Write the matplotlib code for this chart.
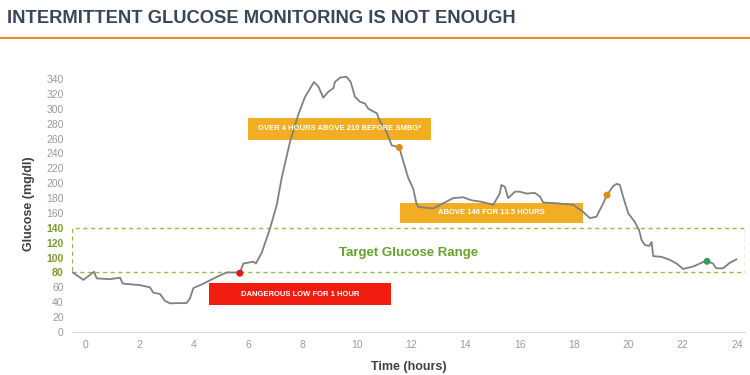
import matplotlib.pyplot as plt
from matplotlib.patches import Rectangle

# glucose trace (hours, mg/dl)
hours = [-0.45, -0.06, 0.33, 0.43, 0.92, 1.29, 1.39, 2.02, 2.39, 2.51, 2.76, 2.94, 3.13,
         3.74, 3.86, 3.99, 4.36, 4.85, 5.21, 5.7, 5.83, 6.2, 6.29, 6.5, 6.81, 7.06, 7.24,
         7.55, 7.85, 8.1, 8.43, 8.59, 8.77, 8.96, 9.14, 9.2, 9.39, 9.63, 9.78, 9.94, 10.12,
         10.31, 10.43, 10.74, 10.86, 11.1, 11.29, 11.57, 11.72, 11.9, 12.08, 12.2, 12.27,
         12.82, 13.56, 13.93, 14.23, 14.6, 15.03, 15.27, 15.33, 15.46, 15.58, 15.83, 16.0,
         16.26, 16.56, 16.75, 16.87, 17.36, 17.97, 18.32, 18.59, 18.83, 19.08, 19.22, 19.44,
         19.57, 19.69, 19.81, 20.0, 20.24, 20.4, 20.49, 20.61, 20.77, 20.86, 20.92, 21.22,
         21.53, 21.78, 22.02, 22.39, 22.64, 22.88, 23.12, 23.24, 23.49, 23.74, 23.98]
glucose = [80, 70, 81, 72, 71, 73, 65, 63, 60, 53, 51, 42, 38.5,
           39, 45, 59, 65, 74, 80, 80, 92, 94.5, 92, 106, 139, 171, 207,
           256, 292, 316, 336, 330, 315, 323, 327.5, 336, 342, 343, 336, 316, 309.5,
           307, 300, 294, 283, 269, 251, 248, 229, 207, 193, 173, 168,
           166, 180, 181, 177, 175, 171, 186, 197.6, 195, 180, 188.6, 188.6,
           186, 187, 182, 174, 173, 171, 162, 153, 155, 173, 184, 196,
           199, 198, 182, 159.5, 148, 137, 123.6, 117, 115.6, 121, 102, 101,
           97, 92, 84.7, 88, 92, 96, 92, 85.6, 85.6, 93, 97.6]

# finger-stick readings
dot_hours = [5.7, 11.57, 19.22, 22.9]
dot_vals = [79, 248, 184, 95]
dot_colors = ['#e8160c', '#e08a1c', '#e08a1c', '#3f9a5a']

# callouts: text, x0, x1, y0, y1, colour
notes = ['OVER 4 HOURS ABOVE 210 BEFORE SMBG*', 'ABOVE 140 FOR 13.5 HOURS', 'DANGEROUS LOW FOR 1 HOUR']
note_x = [(6.0, 12.73), (11.59, 18.33), (4.56, 11.26)]
note_y = [(258, 288), (146.5, 173.4), (36, 66)]
note_colors = ['#f2ae22', '#f2ae22', '#f01c10']

yticks = list(range(0, 341, 20))
xticks = list(range(0, 25, 2))
target_low, target_high = 80, 140

plt.rcParams['font.family'] = ['Liberation Sans', 'DejaVu Sans']

fig = plt.figure(figsize=(7.5, 3.75), dpi=100)
ax = fig.add_axes([0.096, 0.1147, 0.897, 0.6845])

# target range box
ax.add_patch(Rectangle((-0.48, target_low), 24.77, target_high - target_low, fill=False,
                       edgecolor='#8fbf4a', linestyle=(0, (3, 2.5)), linewidth=1.0))
ax.text(11.9, 106, 'Target Glucose Range', color='#64a22c', fontsize=9.5,
        fontweight='bold', ha='center', va='center')

ax.plot(hours, glucose, color='#808080', linewidth=1.3, zorder=3)

for i in range(len(notes)):
    x0, x1 = note_x[i]
    y0, y1 = note_y[i]
    ax.add_patch(Rectangle((x0, y0), x1 - x0, y1 - y0, facecolor=note_colors[i],
                           edgecolor='none', zorder=2))
    ax.text((x0 + x1) / 2, (y0 + y1) / 2, notes[i], color='white', fontsize=5.5,
            fontweight='bold', ha='center', va='center', zorder=4)

ax.scatter(dot_hours, dot_vals, c=dot_colors, s=16, zorder=5)

ax.set_xlim(-0.48, 24.29)
ax.set_ylim(0, 345)
ax.set_xticks(xticks)
ax.set_yticks(yticks)
ax.tick_params(length=0, labelsize=7.5, labelcolor='#9a9a9a', pad=6)
for lab in ax.get_yticklabels():
    if target_low <= int(lab.get_text()) <= target_high:
        lab.set_color('#7c9a2a')
        lab.set_fontweight('bold')

for s in ['top', 'right', 'left']:
    ax.spines[s].set_visible(False)
ax.spines['bottom'].set_color('#d9d9d9')

ax.set_xlabel('Time (hours)', fontsize=9, fontweight='bold', color='#404040', labelpad=8)
ax.set_ylabel('Glucose (mg/dl)', fontsize=9, fontweight='bold', color='#404040', labelpad=8)

fig.text(0.009, 0.95, 'INTERMITTENT GLUCOSE MONITORING IS NOT ENOUGH', fontsize=13.2,
         fontweight='bold', color='#3b4558', va='center', ha='left')
fig.add_artist(plt.Line2D([0, 1], [0.898, 0.898], color='#e8892b', linewidth=1.5))

fig.savefig('out.png', dpi=100)
